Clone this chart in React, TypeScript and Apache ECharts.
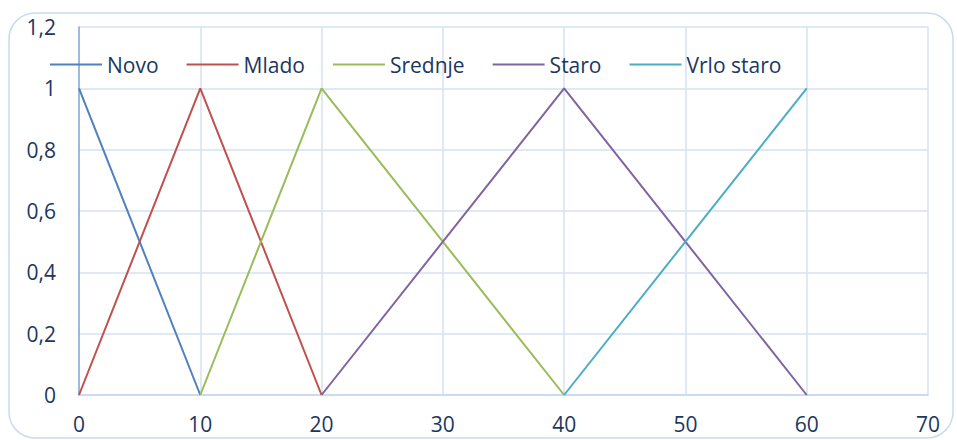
import React, { useEffect, useRef } from "react";
import * as echarts from "echarts";

const seriesNames = ["Novo", "Mlado", "Srednje", "Staro", "Vrlo staro"];
const novo: number[][] = [[0, 1], [10, 0]];
const mlado: number[][] = [[0, 0], [10, 1], [20, 0]];
const srednje: number[][] = [[10, 0], [20, 1], [40, 0]];
const staro: number[][] = [[20, 0], [40, 1], [60, 0]];
const vrloStaro: number[][] = [[40, 0], [60, 1]];
const colors = ["#4F81BD", "#C0504D", "#9BBB59", "#8064A2", "#4BACC6"];

export default function App() {
  const ref = useRef<HTMLDivElement>(null);
  useEffect(() => {
    if (!ref.current) return;
    const chart = echarts.init(ref.current, undefined, { renderer: "svg" });
    const allData = [novo, mlado, srednje, staro, vrloStaro];
    const font = "Open Sans";
    const textColor = "#1C375F";
    chart.setOption({
      animation: false,
      backgroundColor: "#fff",
      textStyle: { fontFamily: font },
      graphic: [
        {
          type: "rect",
          shape: { x: 9, y: 13, width: 944, height: 425, r: 26 },
          style: { fill: "none", stroke: "#C9DAF0", lineWidth: 1.5 },
          silent: true,
        },
      ],
      grid: { left: 79, right: 29, top: 27, bottom: 45 },
      legend: {
        left: 45,
        top: 49,
        itemWidth: 52,
        itemHeight: 14,
        itemGap: 28,
        icon: "path://M0,6 L52,6 L52,8 L0,8 Z",
        textStyle: { fontFamily: font, fontSize: 21, color: textColor },
        data: seriesNames,
      },
      xAxis: {
        type: "value",
        min: 0,
        max: 70,
        interval: 10,
        axisLine: { show: true, lineStyle: { color: "#C5D7EF", width: 1.5 } },
        axisTick: { show: false },
        splitLine: { show: true, lineStyle: { color: "#D5E2F3", width: 1.5 } },
        axisLabel: { fontFamily: font, fontSize: 21, color: textColor, margin: 18 },
      },
      yAxis: {
        type: "value",
        min: 0,
        max: 1.2,
        interval: 0.2,
        axisLine: { show: true, lineStyle: { color: "#86A8DC", width: 1.5 } },
        axisTick: { show: false },
        splitLine: { show: true, lineStyle: { color: "#D5E2F3", width: 1.5 } },
        axisLabel: {
          fontFamily: font,
          fontSize: 21,
          color: textColor,
          margin: 23,
          formatter: (v: number) => String(Math.round(v * 10) / 10).replace(".", ","),
        },
      },
      series: seriesNames.map((name, i) => ({
        name,
        type: "line",
        data: allData[i],
        showSymbol: false,
        symbol: "none",
        lineStyle: { color: colors[i], width: 2 },
        itemStyle: { color: colors[i] },
      })),
    });
    return () => chart.dispose();
  }, []);
  return (
    <div
      ref={ref}
      style={{ position: "absolute", left: 0, top: 0, width: 957, height: 440 }}
    />
  );
}
